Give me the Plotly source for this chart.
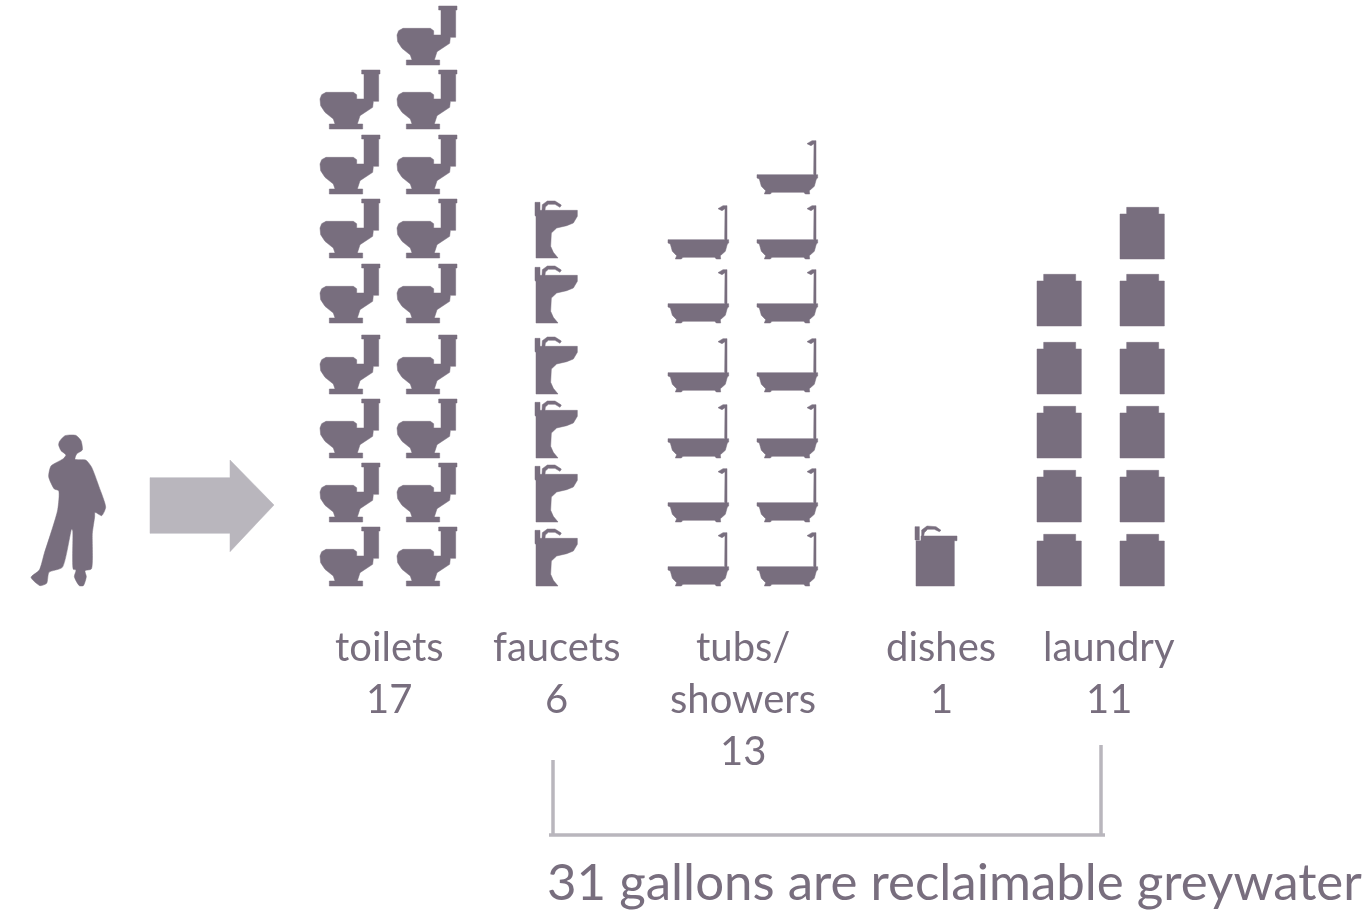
import plotly.graph_objects as go

# ---- data ----
categories = ["toilets", "faucets", "tubs/<br>showers", "dishes", "laundry"]
gallons = [17, 6, 13, 1, 11]
reclaimable = ["faucets", "tubs/<br>showers", "dishes", "laundry"]

# ---- layout of the pictogram ----
icon_cols = [[320, 397], [535], [668, 757], [915], [1037, 1120]]
row_bottoms = [
    [586, 522, 458, 394, 323, 258, 194, 129, 65],
    [586, 522, 458, 394, 323, 258],
    [586, 522, 458, 392, 323, 259, 194],
    [586],
    [586, 522, 458, 394, 326, 259],
]
label_x = [389, 556, 743, 941, 1109]
DARK = "#786e7e"
LIGHT = "#b9b6bd"
FONT = "Lato"

# icon outlines: traced at 3x, with origin at the icon's bottom-left corner
toilet = (260, 195, [[(385,18),(440,18),(440,30),(436,30),(436,112),(420,112),(418,130),(380,155),(372,180),
    (388,180),(388,195),(288,195),(288,180),(305,180),(300,165),(275,145),(262,125),(260,105),(265,92),(278,85),
    (360,85),(370,92),(370,105),(392,105),(392,30),(385,30)]])
faucet = (15, 195, [[(15,28),(30,28),(30,52),(142,52),(142,70),(130,90),(110,98),(80,105),(64,120),(62,160),
    (70,178),(84,195),(18,195),(18,70),(15,68)],
    [(36,52),(37,35),(52,24),(75,24),(94,36),(90,43),(75,34),(55,34),(46,42),(45,52)]])
tub = (290, 193, [[(290,135),(460,135),(461,42),(452,46),(452,48),(440,42),(455,33),(467,33),(467,135),(472,135),
    (472,145),(468,148),(462,170),(447,183),(448,193),(435,193),(430,188),(335,188),(330,193),(312,193),
    (316,183),(303,170),(297,148),(290,145)]])
dish = (42, 1160, [[(45,1024),(45,1160),(160,1160),(160,1024),(168,1024),(168,1010),(60,1010),(60,1024)],
    [(42,982),(55,982),(55,1022),(42,1022)],
    [(62,1010),(62,992),(78,980),(105,982),(120,993),(115,997),(100,990),(80,990),(70,1000),(68,1010)]])
washer = (412, 375, [[(432,220),(528,220),(528,240),(545,240),(545,375),(412,375),(412,240),(432,240)]])
icons = [toilet, faucet, tub, dish, washer]

person = [(118,65),(135,47),(167,46),(183,62),(187,90),(170,102),(165,118),(197,120),(214,140),(237,200),
    (257,262),(245,287),(225,277),(224,290),(217,340),(214,447),(195,452),(199,470),(190,497),(178,497),
    (163,470),(168,450),(160,448),(158,332),(155,327),(127,442),(87,457),(80,490),(60,497),(33,472),
    (58,450),(73,400),(113,270),(116,212),(103,207),(86,170),(93,138),(130,116),(138,105),(123,92),(116,75)]
arrow = [(390,173),(630,173),(630,120),(762,255),(630,395),(630,340),(390,340)]

bracket_x = [553, 1101]
bracket_tops = [760, 745]
bracket_y = 835


def polys_xy(polys):
    xs, ys = [], []
    for p in polys:
        xs += [q[0] for q in p] + [p[0][0], None]
        ys += [q[1] for q in p] + [p[0][1], None]
    return xs, ys


def filled(xs, ys, color, name, shape="linear"):
    line = dict(width=0.5, color=color, shape=shape)
    if shape == "spline":
        line["smoothing"] = 0.6
    return go.Scatter(x=xs, y=ys, mode="lines", fill="toself", fillcolor=color,
                      line=line, name=name, hoverinfo="skip", showlegend=False)


fig = go.Figure()

for cat, n, cols, rows, (ox, oy, parts) in zip(categories, gallons, icon_cols, row_bottoms, icons):
    xs, ys = [], []
    k = len(cols)
    # fill columns evenly, the last column takes the remainder
    per_col = [n // k + (1 if i >= k - n % k else 0) for i in range(k)]
    for left, m in zip(cols, per_col):
        for bottom in rows[:m]:
            placed = [[(left + (x - ox) / 3, bottom + (y - oy) / 3) for x, y in p] for p in parts]
            a, b = polys_xy(placed)
            xs += a
            ys += b
    fig.add_trace(filled(xs, ys, DARK, cat.replace("<br>", " ")))

# person and arrow
a, b = polys_xy([[(20 + x / 3, 420 + y / 3) for x, y in person]])
fig.add_trace(filled(a, b, DARK, "person", shape="spline"))
a, b = polys_xy([[(20 + x / 3, 420 + y / 3) for x, y in arrow]])
fig.add_trace(filled(a, b, LIGHT, "arrow"))

# bracket
fig.add_trace(go.Scatter(
    x=[bracket_x[0], bracket_x[0], None, bracket_x[1], bracket_x[1], None, bracket_x[0] - 4, bracket_x[1] + 4],
    y=[bracket_tops[0], bracket_y, None, bracket_tops[1], bracket_y, None, bracket_y, bracket_y],
    mode="lines", line=dict(color=LIGHT, width=3.5), hoverinfo="skip", showlegend=False, name="bracket"))

# labels
LINE = 52
for cat, n, x in zip(categories, gallons, label_x):
    lines = cat.split("<br>") + [str(n)]
    for i, t in enumerate(lines):
        fig.add_annotation(x=x, y=646 + i * LINE, text=t, showarrow=False, xanchor="center", yanchor="middle",
                           font=dict(family=FONT, size=40, color=DARK))

total = sum(g for c, g in zip(categories, gallons) if c in reclaimable)
fig.add_annotation(x=545, y=880, text=f"{total} gallons are reclaimable greywater", showarrow=False,
                   xanchor="left", yanchor="middle", font=dict(family=FONT, size=51, color=DARK))

fig.update_xaxes(range=[0, 1369], visible=False, fixedrange=True)
fig.update_yaxes(range=[912, 0], visible=False, fixedrange=True)
fig.update_layout(width=1369, height=912, margin=dict(l=0, r=0, t=0, b=0),
                  paper_bgcolor="white", plot_bgcolor="white", showlegend=False)
fig.write_html("out.html", config={"displayModeBar": False},
               post_script="document.body.style.margin='0';document.body.style.overflow='hidden';"
                           "document.querySelector('.plot-container').style.filter='blur(0.5px)';")
